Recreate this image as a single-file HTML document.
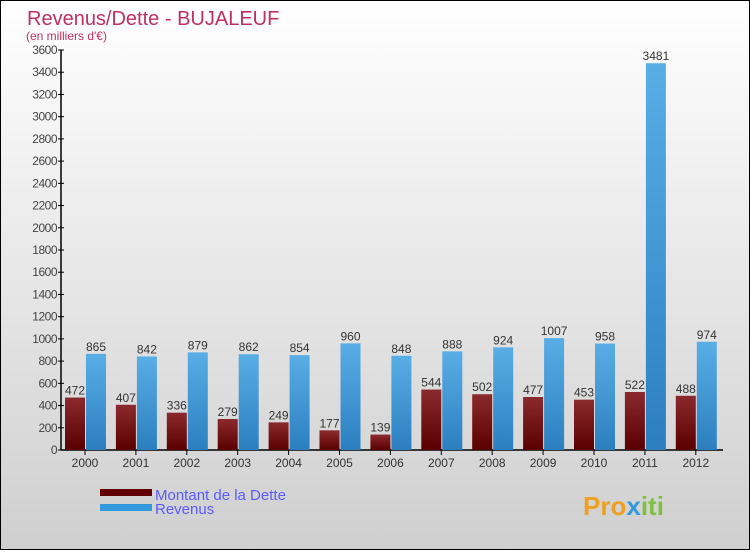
<!DOCTYPE html>
<html><head><meta charset="utf-8"><style>
body{margin:0;width:750px;height:550px;overflow:hidden;font-family:"Liberation Sans",sans-serif}
#wrap{position:absolute;left:0;top:0;width:748px;height:548px;border:1px solid #000;background:linear-gradient(#ffffff,#cfcfcf)}
</style></head><body>
<div id="wrap">
<svg id="chart" width="748" height="548">
<defs>
<linearGradient id="gd" x1="0" y1="0" x2="0" y2="1"><stop offset="0" stop-color="#8b2a2e"/><stop offset="1" stop-color="#5a0000"/></linearGradient>
<linearGradient id="gr" x1="0" y1="0" x2="0" y2="1"><stop offset="0" stop-color="#5aaee6"/><stop offset="1" stop-color="#2b7fbf"/></linearGradient>
</defs>
<text x="26" y="24" font-size="20" fill="#c0305f">Revenus/Dette - BUJALEUF</text>
<text x="25" y="39" font-size="12" fill="#c0305f">(en milliers d'€)</text>
<g id="axes"></g><g id="bars"></g>
<rect x="99" y="488" width="52" height="7" fill="#600000"/>
<rect x="99" y="503" width="52" height="7" fill="#3399dd"/>
<text x="154" y="499" font-size="15" fill="#5a5aff">Montant de la Dette</text>
<text x="154" y="513" font-size="15" fill="#5a5aff">Revenus</text>
<text x="582" y="514" font-size="26" font-weight="bold" fill="#f0a020">Pro<tspan fill="#3399dd">x</tspan><tspan fill="#80c040">iti</tspan></text>
</svg></div>
<script>
const years=["2000","2001","2002","2003","2004","2005","2006","2007","2008","2009","2010","2011","2012"];
const dette=[472,407,336,279,249,177,139,544,502,477,453,522,488];
const revenus=[865,842,879,862,854,960,848,888,924,1007,958,3481,974];
const ticks=[0,200,400,600,800,1000,1200,1400,1600,1800,2000,2200,2400,2600,2800,3000,3200,3400,3600];
const NS="http://www.w3.org/2000/svg";
const y=v=>449-v*(400/3600);
const x=i=>84+i*50.9;
function mk(t,a,p){const e=document.createElementNS(NS,t);for(const k in a)e.setAttribute(k,a[k]);p.appendChild(e);return e;}
const ax=document.getElementById('axes'),bg=document.getElementById('bars');
const yl=mk('line',{x1:60,y1:49,x2:60,y2:449,stroke:'#000','stroke-width':1.5},ax);


const xl=mk('line',{x1:60,y1:449,x2:722,y2:449,stroke:'#000','stroke-width':1.5},ax);


ticks.forEach(t=>{
 mk('line',{x1:57,x2:63,y1:y(t),y2:y(t),stroke:'#000'},ax);
 const e=mk('text',{x:56,y:y(t)+4,'text-anchor':'end','font-size':12,fill:'#444','letter-spacing':'-0.5'},ax);e.textContent=t;
 
 
});
years.forEach((yr,i)=>{
 const cx=x(i);
 mk('line',{x1:cx,x2:cx,y1:449,y2:454,stroke:'#000'},ax);
 const l=mk('text',{x:cx,y:466,'text-anchor':'middle','font-size':12,fill:'#333'},ax);l.textContent=yr;
 
 
 const d=mk('rect',{x:cx-20,y:y(dette[i]),width:20,height:449-y(dette[i]),fill:'url(#gd)'},bg);
 
 
 const r=mk('rect',{x:cx+1,y:y(revenus[i]),width:20,height:449-y(revenus[i]),fill:'url(#gr)'},bg);
 
 
 const dt=mk('text',{x:cx-10,y:y(dette[i])-3,'text-anchor':'middle','font-size':12,fill:'#333'},bg);dt.textContent=dette[i];
 
 
 const rt=mk('text',{x:cx+11,y:y(revenus[i])-3,'text-anchor':'middle','font-size':12,fill:'#333'},bg);rt.textContent=revenus[i];
 
 
});
</script>
</body></html>
